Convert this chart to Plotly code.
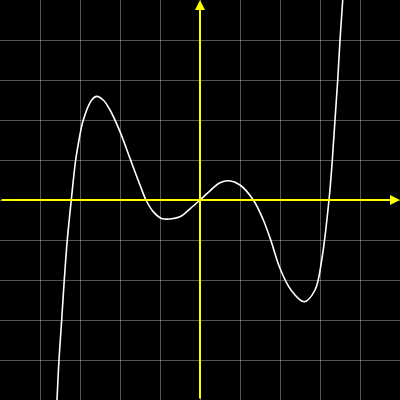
import plotly.graph_objects as go

# Curve samples (data units, one grid cell = 1)
curve_x = [-3.575, -3.525, -3.458, -3.393, -3.318, -3.218, -3.108, -3.025, -2.918, -2.708,
           -2.583, -2.42, -2.25, -2.0, -1.75, -1.5, -1.35, -1.17, -0.96, -0.75,
           -0.5, -0.25, 0.0, 0.25, 0.5, 0.73, 1.0, 1.333, 1.583, 1.768,
           2.0, 2.275, 2.608, 2.875, 3.043, 3.225, 3.308, 3.375, 3.443, 3.5, 3.568]
curve_y = [-5.0, -4.0, -3.0, -2.0, -1.0, 0.0, 1.0, 1.5, 2.0, 2.5,
           2.59, 2.5, 2.25, 1.71, 1.04, 0.375, 0.0, -0.29, -0.46, -0.475,
           -0.42, -0.22, 0.0, 0.23, 0.43, 0.48, 0.375, 0.0, -0.5, -1.0,
           -1.71, -2.25, -2.543, -2.25, -1.5, 0.0, 1.0, 2.0, 3.0, 4.0, 5.0]

x_range = [-5, 5]
y_range = [-5, 5]

fig = go.Figure()
fig.add_trace(go.Scatter(x=curve_x, y=curve_y, mode="lines",
                         line=dict(color="white", width=1.6, shape="spline", smoothing=1.0),
                         hoverinfo="skip", showlegend=False))

axis_common = dict(showticklabels=False, ticks="", showgrid=True,
                   gridcolor="rgba(255,255,255,0.33)", gridwidth=1.3,
                   zeroline=False, showline=False, dtick=1, fixedrange=True)
fig.update_xaxes(range=x_range, **axis_common)
fig.update_yaxes(range=y_range, **axis_common)

# Yellow axes with arrowheads
fig.add_annotation(x=x_range[1], y=0, ax=x_range[0], ay=0, xref="x", yref="y",
                   axref="x", ayref="y", text="", showarrow=True, arrowhead=2,
                   arrowsize=1.0, arrowwidth=2, arrowcolor="#ffff00", standoff=0)
fig.add_annotation(x=0, y=y_range[1], ax=0, ay=y_range[0], xref="x", yref="y",
                   axref="x", ayref="y", text="", showarrow=True, arrowhead=2,
                   arrowsize=1.0, arrowwidth=2, arrowcolor="#ffff00", standoff=0)

fig.update_layout(width=400, height=400, margin=dict(l=0, r=0, t=0, b=0),
                  paper_bgcolor="black", plot_bgcolor="black", showlegend=False)

fig.write_html("out.html", config={"displayModeBar": False})
